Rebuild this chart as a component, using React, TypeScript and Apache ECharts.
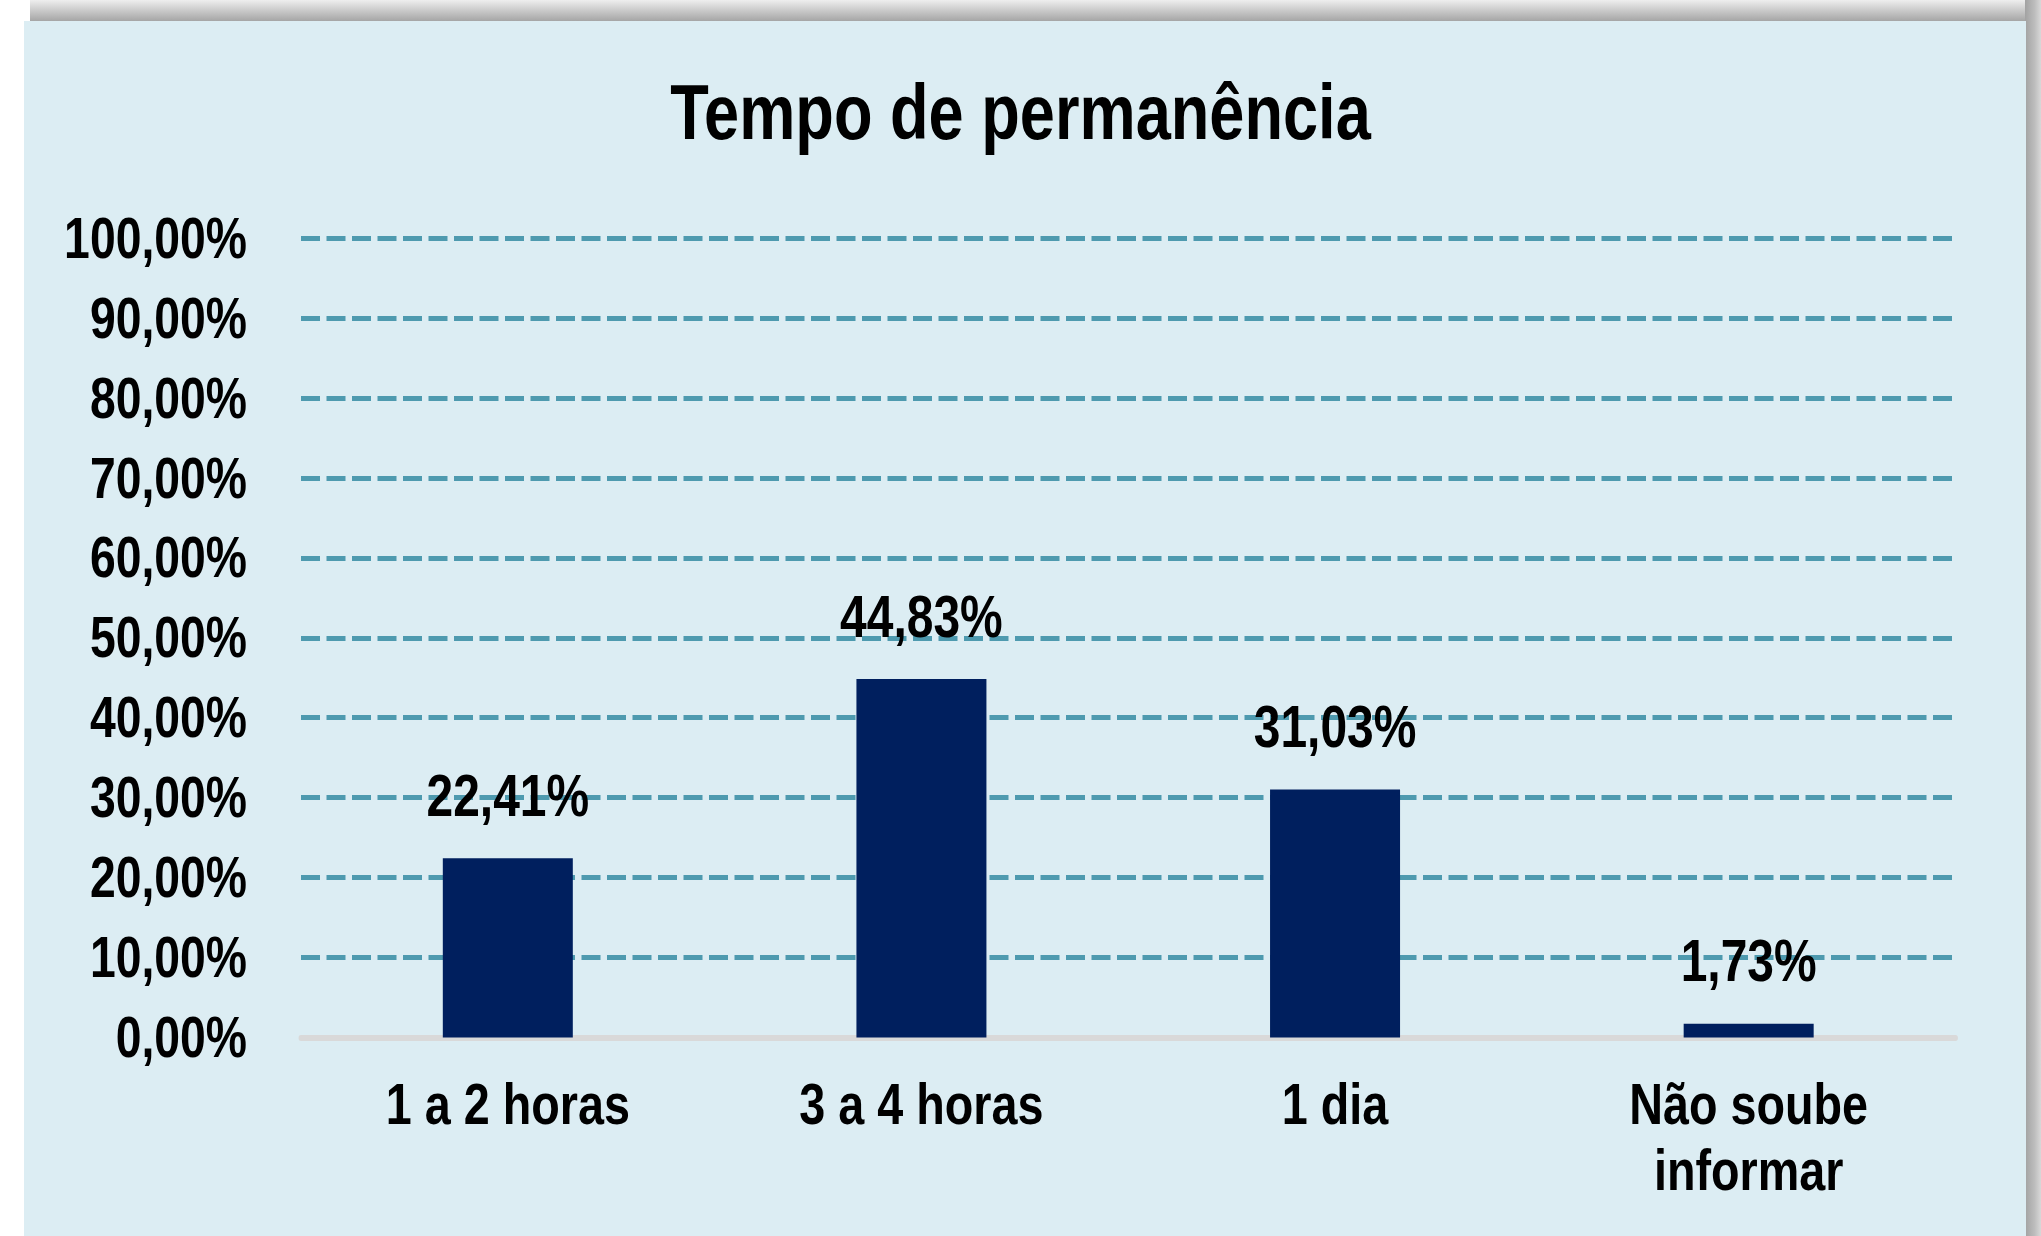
import React, { useEffect, useRef } from "react";
import * as echarts from "echarts";

const titleText = "Tempo de permanência";
const categories = ["1 a 2 horas", "3 a 4 horas", "1 dia", "Não soube\ninformar"];
const values = [22.41, 44.83, 31.03, 1.73];
const yMin = 0;
const yMax = 100;
const yInterval = 10;

// Arial Narrow look: Liberation Sans (Arial metrics) squeezed horizontally
const K = 0.82;
const W = 2041;
const H = 1236;
const FONT = "'Liberation Sans', Arial, sans-serif";
const fmt = (v: number) => v.toFixed(2).replace(".", ",") + "%";
const sx = (x: number) => x / K;

export default function App() {
  const ref = useRef<HTMLDivElement>(null);
  useEffect(() => {
    document.body.style.margin = "0";
    document.documentElement.style.overflow = "hidden";
    const chart = echarts.init(ref.current!, undefined, { renderer: "svg" });
    chart.setOption({
      animation: false,
      backgroundColor: "#ffffff",
      graphic: [
        {
          type: "rect",
          z: -10,
          shape: { x: sx(30), y: 0, width: sx(2011), height: 22 },
          style: {
            fill: new echarts.graphic.LinearGradient(0, 0, 0, 1, [
              { offset: 0, color: "#eeeeee" },
              { offset: 0.5, color: "#c8c8c8" },
              { offset: 1, color: "#a2a2a2" },
            ]),
          },
        },
        {
          type: "rect",
          z: -10,
          shape: { x: sx(2025), y: 0, width: sx(16), height: H },
          style: {
            fill: new echarts.graphic.LinearGradient(0, 0, 1, 0, [
              { offset: 0, color: "#a2a2a2" },
              { offset: 0.6, color: "#bdbdbd" },
              { offset: 1, color: "#d8d8d8" },
            ]),
          },
        },
        {
          type: "rect",
          z: -9,
          shape: { x: sx(24), y: 21, width: sx(2002), height: H - 21 },
          style: { fill: "#DCEDF3" },
        },
      ],
      title: {
        text: titleText,
        left: "center",
        top: 67,
        textStyle: {
          fontFamily: FONT,
          fontWeight: "bold",
          fontSize: 77,
          lineHeight: 80,
          color: "#000000",
        },
      },
      grid: { left: sx(301), right: sx(85.5), top: 238, bottom: 198.5 },
      xAxis: {
        type: "category",
        data: categories,
        axisLine: { show: true, lineStyle: { color: "#D9D9D9", width: 6 } },
        axisTick: { show: false },
        axisLabel: {
          fontFamily: FONT,
          fontWeight: "bold",
          fontSize: 57,
          lineHeight: 66,
          color: "#000000",
          margin: 34,
          interval: 0,
        },
      },
      yAxis: {
        type: "value",
        min: yMin,
        max: yMax,
        interval: yInterval,
        axisLine: { show: false },
        axisTick: { show: false },
        axisLabel: {
          fontFamily: FONT,
          fontWeight: "bold",
          fontSize: 56.5,
          color: "#000000",
          margin: sx(54),
          padding: [0, 0, 8, 0],
          formatter: (v: number) => fmt(v),
        },
        splitLine: {
          show: true,
          lineStyle: { color: "#4E9AAF", width: 5, type: [sx(19), sx(6.5)] },
        },
      },
      series: [
        {
          type: "bar",
          data: values,
          barWidth: sx(130),
          itemStyle: { color: "#001F5E" },
          label: {
            show: true,
            position: "top",
            distance: 33,
            fontFamily: FONT,
            fontWeight: "bold",
            fontSize: 58.5,
            color: "#000000",
            formatter: (p: any) => fmt(p.value),
          },
        },
      ],
    });
    return () => chart.dispose();
  }, []);
  return (
    <div style={{ position: "absolute", left: 0, top: 0, width: W, height: H, overflow: "hidden" }}>
      <div
        ref={ref}
        style={{
          position: "absolute",
          left: 0,
          top: 0,
          width: W / K,
          height: H,
          transform: `scaleX(${K})`,
          transformOrigin: "0 0",
        }}
      />
    </div>
  );
}
